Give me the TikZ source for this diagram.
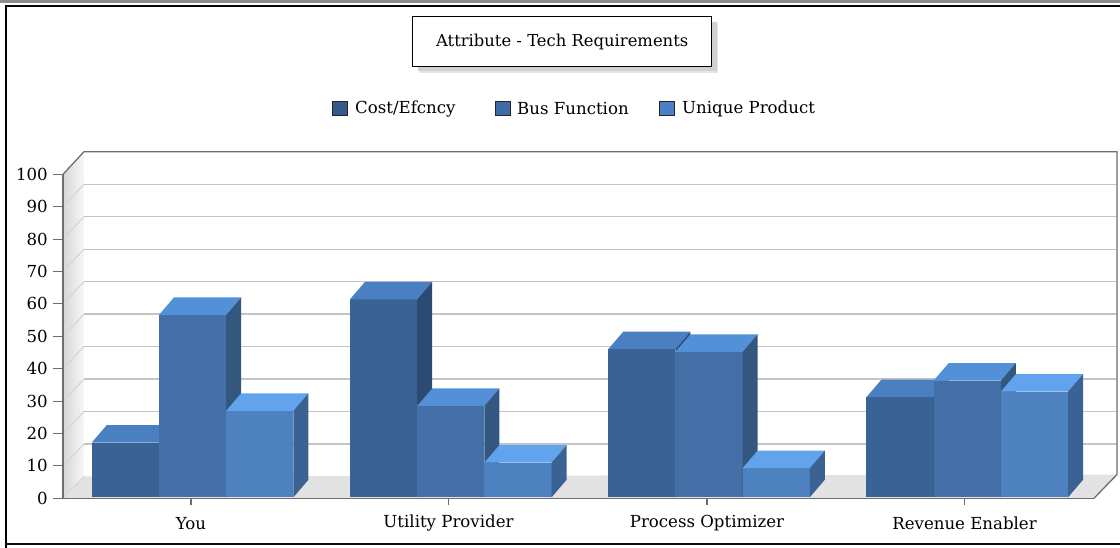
\documentclass[tikz,border=0pt]{standalone}
\usepackage{fontspec}
\setmainfont{DejaVu Serif}
\usetikzlibrary{calc}

% series colours: front, top and side faces
\definecolor{costfront}{HTML}{3A6395}
\definecolor{costtop}{HTML}{4A80C2}
\definecolor{costside}{HTML}{2C4B73}
\definecolor{busfront}{HTML}{4470A7}
\definecolor{bustop}{HTML}{5290D8}
\definecolor{busside}{HTML}{33577F}
\definecolor{uniqfront}{HTML}{4E81C0}
\definecolor{uniqtop}{HTML}{62A3EE}
\definecolor{uniqside}{HTML}{3A6393}
\definecolor{costkey}{HTML}{34598B}
\definecolor{buskey}{HTML}{3D6BA5}
\definecolor{uniqkey}{HTML}{4A80C8}
\definecolor{gridgray}{HTML}{C4C4C4}
\definecolor{framegray}{HTML}{6E6E6E}
\definecolor{floorgray}{HTML}{E2E2E2}

\tikzset{
  chartfont/.style={font=\fontsize{16.6}{18}\selectfont, text=black},
  axislabel/.style={chartfont, inner sep=0pt},
  keybox/.style={draw=black!85, line width=0.9pt, minimum width=15pt, minimum height=13.5pt, inner sep=0pt},
  keytext/.style={chartfont, anchor=west, inner sep=0pt},
  gridline/.style={draw=gridgray, line width=1.2pt},
  edgeline/.style={draw=framegray, line width=1.3pt},
}

% one 3-D bar: left x, value, series prefix
\newcommand\chartbar[3]{%
  \pgfmathsetmacro\bx{#1}%
  \pgfmathsetmacro\bxr{#1+67.2}%
  \pgfmathsetmacro\bt{497.3-3.24*#2}%
  \fill[#3front] (\bx,497.3) rectangle (\bxr,\bt);
  \fill[#3top] (\bx,\bt) -- (\bxr,\bt) -- (\bxr+15,\bt-17.5) -- (\bx+15,\bt-17.5) -- cycle;
  \fill[#3side] (\bxr,\bt) -- (\bxr+15,\bt-17.5) -- (\bxr+15,479.8) -- (\bxr,497.3) -- cycle;
}

\begin{document}
\begin{tikzpicture}[x=1pt,y=-1pt]
\useasboundingbox (0,0) rectangle (1120,548);
\clip (0,0) rectangle (1120,548);
\fill[white] (0,0) rectangle (1120,548);

% window frame
\fill[black!45] (0,0) rectangle (1120,2.6);
\draw[black, line width=1.8pt] (5.8,1130) -- (5.8,5.8) -- (1130,5.8);
\draw[black!85!green!60!black, line width=2pt] (5.8,544) -- (1130,544);

% title with its shadow
\fill[black!10] (419,23) rectangle (718,73);
\fill[black!18] (418,22) rectangle (716.5,71.5);
\node[draw=black, line width=1.3pt, fill=white, minimum width=299pt, minimum height=50pt,
      inner sep=0pt, font=\fontsize{16.4}{18}\selectfont, text=black] (title) at (562.2,41.7)
      {Attribute - Tech Requirements};

% legend
\node[keybox, fill=costkey] (kcost) at (340,108.5) {};
\node[keytext] (tcost) at (355,109) {Cost/Efcncy};
\node[keybox, fill=buskey] (kbus) at (503,108.5) {};
\node[keytext] (tbus) at (517,109) {Bus Function};
\node[keybox, fill=uniqkey] (kuniq) at (666.5,108.5) {};
\node[keytext] (tuniq) at (682,109) {Unique Product};

% left wall and floor
\shade[left color=black!16, right color=black!3] (63,498.3) -- (63,174.3) -- (84,151.7) -- (84,476.5) -- cycle;
\fill[floorgray] (63,498.3) -- (1094,498.3) -- (1117,474.5) -- (84,476.5) -- cycle;

% grid on the back wall and left wall
\foreach \v in {10,20,...,90} {
  \draw[gridline] (84,476.5-3.248*\v) -- (1117,476.5-3.248*\v);
  \draw[gridline, draw=gridgray!70] (63,498.3-3.24*\v) -- (84,476.5-3.248*\v);
}
\draw[gridline, draw=gridgray!70] (63,498.3) -- (84,476.5);

% outline of the plot box
\draw[edgeline] (63,174.3) -- (84,151.7) -- (1117,151.7) -- (1117,474.5) -- (1094,498.3);

% bars
\foreach \g/\a/\b/\c in {0/16.9/56.3/26.7, 1/61.1/28.2/10.7, 2/45.7/44.9/9.0, 3/30.9/36.0/32.6} {
  \pgfmathsetmacro\gx{91.8+258.2*\g}
  \chartbar{\gx}{\a}{cost}
  \chartbar{\gx+67.2}{\b}{bus}
  \chartbar{\gx+134.4}{\c}{uniq}
}

% axes
\draw[edgeline] (63,174.3) -- (63,498.3) -- (1094,498.3);
\foreach \v in {0,10,...,100} {
  \draw[edgeline, line width=1.1pt] (53,498.3-3.24*\v) -- (63,498.3-3.24*\v);
  \node[axislabel, anchor=east] (y\v) at (48,498.3-3.24*\v) {\v};
}

% categories
\foreach \x/\name/\lab in {191/you/You, 448.5/util/Utility Provider, 707/proc/Process Optimizer, 964.5/rev/Revenue Enabler} {
  \draw[edgeline, line width=1.1pt] (\x,498.3) -- (\x,505);
  \node[axislabel] (c\name) at (\x,523.5) {\lab};
}
\end{tikzpicture}
\end{document}
